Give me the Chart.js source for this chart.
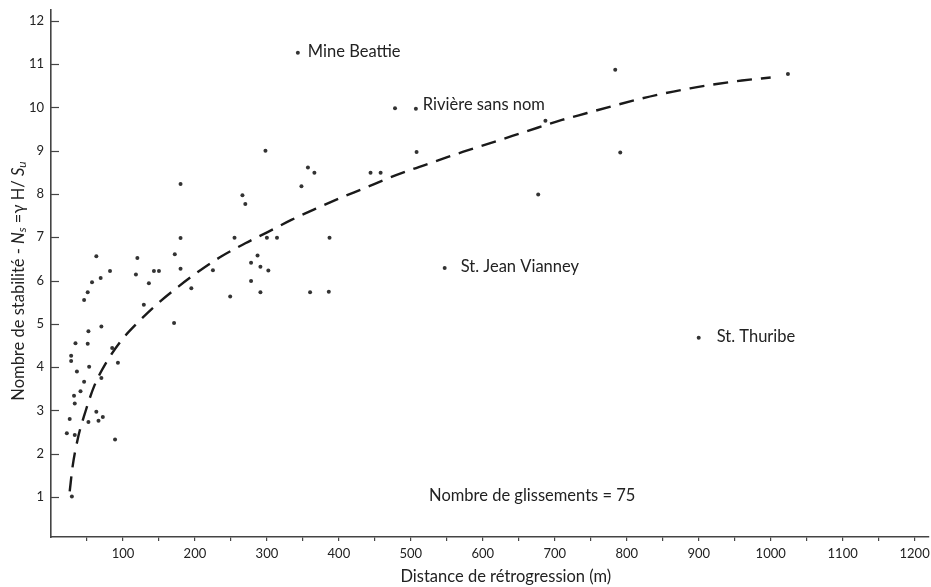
<!DOCTYPE html>
<html>
<head>
<meta charset="utf-8">
<script src="https://cdn.jsdelivr.net/npm/chart.js@4/dist/chart.umd.min.js"></script>
<style>
  html, body { margin: 0; padding: 0; background: #fff; }
  #wrap { width: 931px; height: 587px; }
</style>
</head>
<body>
<div id="wrap"><canvas id="chart"></canvas></div>
<script>
// Data
const distances = [22, 26, 28, 28, 34, 36, 32, 33, 33, 29,
  41, 46, 46, 51, 57, 52, 51, 53, 52, 63,
  66, 72, 70, 70, 85, 93, 89, 129, 136, 171,
  195, 249, 278, 291, 360, 63, 69, 82, 118, 120,
  143, 150, 172, 180, 180, 180, 225, 266, 270, 255,
  278, 287, 291, 302, 298, 300, 314, 348, 357, 366,
  343, 478, 507, 508, 444, 458, 387, 386, 547, 677,
  687, 784, 791, 1024, 900];
const stabilityNumbers = [2.47, 2.80, 4.26, 4.14, 4.55, 3.90, 3.34, 3.16, 2.43, 1.01,
  3.44, 3.66, 5.55, 5.73, 5.96, 4.83, 4.54, 4.01, 2.73, 2.97,
  2.76, 2.85, 4.94, 3.75, 4.44, 4.10, 2.33, 5.44, 5.94, 5.02,
  5.82, 5.63, 5.99, 5.73, 5.73, 6.56, 6.06, 6.22, 6.14, 6.52,
  6.22, 6.22, 6.61, 8.23, 6.98, 6.27, 6.24, 7.97, 7.77, 6.99,
  6.41, 6.58, 6.32, 6.23, 9.00, 6.99, 6.99, 8.18, 8.61, 8.49,
  11.26, 9.98, 9.97, 8.97, 8.49, 8.49, 6.99, 5.74, 6.29, 7.99,
  9.69, 10.87, 8.96, 10.77, 4.68];

// Named slides (index into the arrays above)
const namedSlides = ['Mine Beattie', 'Rivière sans nom', 'St. Jean Vianney', 'St. Thuribe'];
const namedIndex = [60, 62, 68, 74];

// Trend curve
const trendX = [26, 30, 38, 48, 60, 77, 98, 120, 147, 177, 206, 237, 270, 301, 334, 368,
  401, 435, 468, 502, 537, 572, 606, 641, 676, 710, 745, 780, 817, 851, 888, 925, 960, 1000];
const trendY = [1.13, 1.7, 2.4, 2.98, 3.56, 4.11, 4.62, 5.02, 5.45, 5.86, 6.22, 6.56, 6.86, 7.12, 7.40, 7.66,
  7.90, 8.13, 8.36, 8.57, 8.77, 8.97, 9.15, 9.34, 9.53, 9.71, 9.87, 10.03, 10.19, 10.32, 10.44, 10.54, 10.62, 10.69];

const xTicks = [50, 100, 150, 200, 250, 300, 350, 400, 450, 500, 550, 600, 650, 700, 750, 800, 850, 900, 950, 1000, 1050, 1100, 1150, 1200];
const yTicks = [1, 2, 3, 4, 5, 6, 7, 8, 9, 10, 11, 12];

const FONT = 'Lato, "Open Sans", sans-serif';
const INK = '#222';
const TEXT_SIZE = 16.5;

// Inward y ticks, titles and labels
const extras = {
  id: 'extras',
  afterDraw(chart) {
    const ctx = chart.ctx;
    const xs = chart.scales.x, ys = chart.scales.y;
    const area = chart.chartArea;
    ctx.save();

    // y ticks point into the plot
    ctx.strokeStyle = '#444';
    ctx.lineWidth = 1.2;
    yTicks.forEach(v => {
      const py = Math.round(ys.getPixelForValue(v)) + 0.5;
      ctx.beginPath();
      ctx.moveTo(area.left, py);
      ctx.lineTo(area.left + 8, py);
      ctx.stroke();
    });

    // labels next to named points
    ctx.fillStyle = INK;
    ctx.font = TEXT_SIZE + 'px ' + FONT;
    ctx.textBaseline = 'middle';
    ctx.textAlign = 'left';
    const offs = [[10, -1], [7, -4], [16, -1], [18, -1]];
    namedIndex.forEach((idx, i) => {
      const px = xs.getPixelForValue(distances[idx]);
      const py = ys.getPixelForValue(stabilityNumbers[idx]);
      ctx.fillText(namedSlides[i], px + offs[i][0], py + offs[i][1]);
    });

    // count note
    ctx.textAlign = 'right';
    ctx.fillText('Nombre de glissements = ' + distances.length, xs.getPixelForValue(812), ys.getPixelForValue(1.04));

    // x title
    ctx.textAlign = 'center';
    ctx.fillText('Distance de rétrogression (m)', xs.getPixelForValue(632), 577);

    // y title with italic subscripts
    const parts = [
      ['Nombre de stabilité - ', '', TEXT_SIZE, 0],
      ['N', 'italic ', TEXT_SIZE, 0],
      ['s', 'italic ', 12, 3],
      [' =γ H/ ', '', TEXT_SIZE, 0],
      ['S', 'italic ', TEXT_SIZE, 0],
      ['u', 'italic ', 12, 3]
    ];
    let total = 0;
    parts.forEach(p => { ctx.font = p[1] + p[2] + 'px ' + FONT; total += ctx.measureText(p[0]).width; });
    ctx.translate(19, 281);
    ctx.rotate(-Math.PI / 2);
    ctx.textAlign = 'left';
    let cx = -total / 2;
    parts.forEach(p => {
      ctx.font = p[1] + p[2] + 'px ' + FONT;
      ctx.fillText(p[0], cx, p[3]);
      cx += ctx.measureText(p[0]).width;
    });
    ctx.restore();
  }
};

const ctx = document.getElementById('chart').getContext('2d');
new Chart(ctx, {
  type: 'scatter',
  data: {
    datasets: [
      {
        label: 'Glissements',
        data: distances.map((d, i) => ({ x: d, y: stabilityNumbers[i] })),
        pointRadius: 2,
        pointHoverRadius: 2,
        pointBackgroundColor: '#333',
        pointBorderWidth: 0
      },
      {
        label: 'Tendance',
        type: 'line',
        data: trendX.map((d, i) => ({ x: d, y: trendY[i] })),
        borderColor: '#1a1a1a',
        borderWidth: 2.4,
        borderDash: [15, 9],
        pointRadius: 0,
        fill: false,
        cubicInterpolationMode: 'monotone'
      }
    ]
  },
  options: {
    responsive: true,
    maintainAspectRatio: false,
    animation: false,
    layout: { padding: { top: 10, left: 0, right: 0, bottom: 0 } },
    plugins: { legend: { display: false }, tooltip: { enabled: false } },
    scales: {
      x: {
        type: 'linear',
        min: 0,
        max: 1220,
        afterBuildTicks: s => { s.ticks = xTicks.map(v => ({ value: v })); },
        afterFit: s => { s.height = 50; s.paddingLeft = 0; s.paddingRight = 0; },
        ticks: {
          autoSkip: false,
          maxRotation: 0,
          padding: 5,
          color: INK,
          font: { family: FONT, size: 13 },
          callback: v => (v % 100 === 0 ? v : '')
        },
        grid: { drawOnChartArea: false, drawTicks: true, tickLength: 4, color: '#444', lineWidth: 1.2 },
        border: { display: true, color: '#444', width: 1.6 }
      },
      y: {
        min: 0.075,
        max: 12.25,
        afterBuildTicks: s => { s.ticks = yTicks.map(v => ({ value: v })); },
        afterFit: s => { s.width = 51; s.paddingTop = 0; s.paddingBottom = 0; },
        ticks: {
          padding: 7,
          color: INK,
          font: { family: FONT, size: 13 }
        },
        grid: { drawOnChartArea: false, drawTicks: false },
        border: { display: true, color: '#444', width: 1.6 }
      }
    }
  },
  plugins: [extras]
});
</script>
</body>
</html>
